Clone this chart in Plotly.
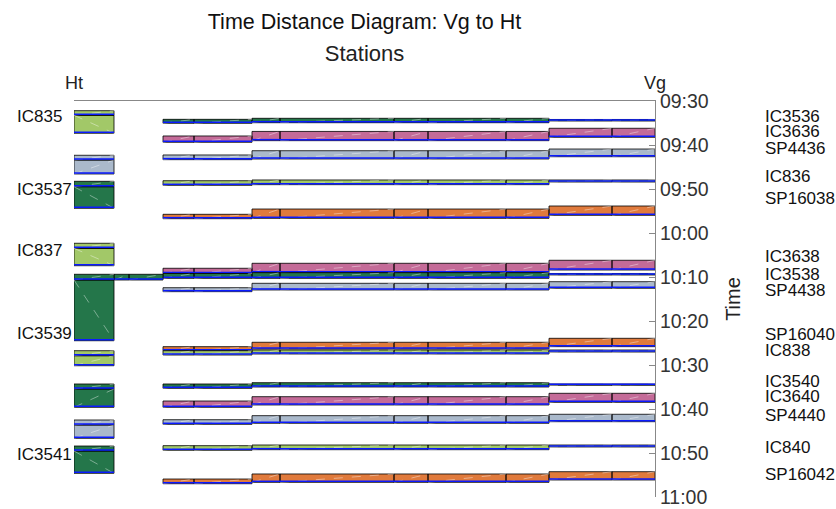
import plotly.graph_objects as go
import pandas as pd

DAY = "2024-01-01 "

# ---- stations (km from Ht) ----
STATION_KM = [0.0, 4.0, 5.5, 8.9, 12.0, 17.8, 20.6, 32.0, 35.4, 43.2, 47.5, 53.8, 58.1]
TICK_KM = [0.0, 58.1]
TICK_TEXT = ["Ht", "Vg"]

# section groups as station index ranges
GROUP_A = (3, 5)
GROUP_B = (5, 10)
GROUP_C = (10, 12)

DG = "#24764a"   # dark green
LG = "#a2c868"   # light green
PK = "#c46b98"   # pink
GR = "#aab9cb"   # grey blue
OR = "#e07a3c"   # orange

TRAINS = ["IC3536", "IC3636", "SP4436", "IC836", "SP16038",
          "IC3638", "IC3538", "SP4438", "SP16040", "IC838",
          "IC3540", "IC3640", "SP4440", "IC840", "SP16042"]
TRAIN_COLOR = [DG, PK, GR, LG, OR, PK, DG, GR, OR, LG, DG, PK, GR, LG, OR]

BLOCK_A = [("09:34:10", "09:35:04"), ("09:37:57", "09:39:23"), ("09:42:16", "09:43:20"),
           ("09:48:07", "09:49:10"), ("09:55:45", "09:56:45"), ("10:08:01", "10:09:12"),
           ("10:09:12", "10:10:18"), ("10:12:26", "10:13:20"), ("10:25:50", "10:26:45"),
           ("10:26:45", "10:27:44"), ("10:34:19", "10:35:18"), ("10:38:11", "10:39:37"),
           ("10:42:26", "10:43:29"), ("10:48:20", "10:49:23"), ("10:55:55", "10:56:59")]
BLOCK_B = [("09:33:56", "09:34:56"), ("09:36:55", "09:39:01"), ("09:41:18", "09:43:11"),
           ("09:47:57", "09:49:01"), ("09:54:33", "09:56:40"), ("10:06:53", "10:09:01"),
           ("10:09:01", "10:10:18"), ("10:11:26", "10:12:57"), ("10:24:50", "10:26:22"),
           ("10:26:35", "10:27:30"), ("10:34:01", "10:35:00"), ("10:37:12", "10:39:05"),
           ("10:41:31", "10:43:15"), ("10:48:11", "10:49:15"), ("10:54:46", "10:56:40")]
BLOCK_C = [("09:34:12", "09:34:33"), ("09:36:12", "09:38:15"), ("09:40:55", "09:42:40"),
           ("09:47:57", "09:48:25"), ("09:53:52", "09:55:59"), ("10:06:12", "10:08:25"),
           ("10:09:12", "10:09:33"), ("10:11:04", "10:12:34"), ("10:23:56", "10:25:50"),
           ("10:26:35", "10:27:03"), ("10:34:19", "10:34:37"), ("10:36:26", "10:38:29"),
           ("10:41:12", "10:42:53"), ("10:48:11", "10:48:38"), ("10:54:15", "10:56:08")]
LABEL_TIME = ["09:33:31", "09:37:00", "09:40:52", "09:47:05", "09:52:14",
              "10:05:27", "10:09:26", "10:13:08", "10:23:04", "10:26:42",
              "10:33:41", "10:37:07", "10:41:29", "10:48:41", "10:54:53"]

# extra block of IC3538 towards Ht (station index range, start, end)
EXTRA_BLOCKS = [(1, 3, "10:09:23", "10:10:41", DG)]

# blocks at Ht (station 0 -> 1): band start, band end, block end
LEFT_COLOR = [LG, GR, DG, LG, DG, LG, DG, GR, DG]
LEFT_TIMES = [("09:32:12", "09:33:15", "09:37:20"), ("09:42:20", "09:43:25", "09:46:35"),
              ("09:48:15", "09:49:29", "09:54:23"), ("10:02:20", "10:03:29", "10:07:26"),
              ("10:09:23", "10:10:41", "10:24:29"), ("10:26:45", "10:27:53", "10:30:10"),
              ("10:34:19", "10:35:27", "10:39:37"), ("10:42:30", "10:43:38", "10:46:40"),
              ("10:48:25", "10:49:33", "10:54:37")]
LEFT_DIAG_DOWN = [True, False, True, True, True, False, False, False, True]
LEFT_LABELS = ["IC835", "IC3537", "IC837", "IC3539", "IC3541"]
LEFT_LABEL_TIME = ["09:33:38", "09:50:04", "10:04:03", "10:22:48", "10:50:20"]


def ts(s):
    return pd.Timestamp(DAY + s)


BLUE_OFFSET = pd.Timedelta(seconds=14)

fig = go.Figure()


def add_blocks(blocks, color):
    """blocks: list of (x0, x1, tstart, tend, diag_down)"""
    fx, fy, dx, dy, bx, by = [], [], [], [], [], []
    for x0, x1, t0, t1, down in blocks:
        fx += [x0, x1, x1, x0, x0, None]
        fy += [t0, t0, t1, t1, t0, None]
        dx += [x0, x1, None]
        dy += ([t0, t1, None] if down else [t1, t0, None])
        bx += [x0, x1, None]
        bottom = max(t1 - BLUE_OFFSET, t0)
        by += [bottom, bottom, None]
    fig.add_trace(go.Scatter(x=fx, y=fy, mode="lines", fill="toself", fillcolor=color,
                             line=dict(color="rgba(0,0,0,0.8)", width=1),
                             hoverinfo="skip", showlegend=False))
    fig.add_trace(go.Scatter(x=dx, y=dy, mode="lines",
                             line=dict(color="rgba(255,255,255,0.4)", width=1, dash="dash"),
                             hoverinfo="skip", showlegend=False))
    fig.add_trace(go.Scatter(x=bx, y=by, mode="lines",
                             line=dict(color="#0a1aff", width=1.5),
                             hoverinfo="skip", showlegend=False))


# right-side trains
for i, name in enumerate(TRAINS):
    blocks = []
    for (g0, g1), (s, e) in ((GROUP_A, BLOCK_A[i]), (GROUP_B, BLOCK_B[i]), (GROUP_C, BLOCK_C[i])):
        for k in range(g0, g1):
            blocks.append((STATION_KM[k], STATION_KM[k + 1], ts(s), ts(e), False))
    add_blocks(blocks, TRAIN_COLOR[i])

# extra
for g0, g1, s, e, c in EXTRA_BLOCKS:
    add_blocks([(STATION_KM[k], STATION_KM[k + 1], ts(s), ts(e), False) for k in range(g0, g1)], c)

# Ht blocks
for i, (b0, b1, b2) in enumerate(LEFT_TIMES):
    add_blocks([(STATION_KM[0], STATION_KM[1], ts(b0), ts(b1), False),
                (STATION_KM[0], STATION_KM[1], ts(b1), ts(b2), LEFT_DIAG_DOWN[i])],
               LEFT_COLOR[i])

FONT = "Liberation Sans, Arial, sans-serif"
PLOT_L, PLOT_W = 74, 581

annotations = []
for name, t in zip(TRAINS, LABEL_TIME):
    annotations.append(dict(text=name, x=(763 - PLOT_L) / PLOT_W, xref="paper", xanchor="left",
                            y=ts(t), yref="y", yanchor="middle", showarrow=False,
                            font=dict(family=FONT, size=17, color="#111")))
for name, t in zip(LEFT_LABELS, LEFT_LABEL_TIME):
    annotations.append(dict(text=name, x=(15 - PLOT_L) / PLOT_W, xref="paper", xanchor="left",
                            y=ts(t), yref="y", yanchor="middle", showarrow=False,
                            font=dict(family=FONT, size=17, color="#111")))

fig.update_layout(
    width=836, height=509,
    margin=dict(l=74, r=181, t=101, b=12),
    plot_bgcolor="white", paper_bgcolor="white",
    font=dict(family=FONT, color="#222"),
    title=dict(text="Time Distance Diagram: Vg to Ht", x=0.5, xref="paper", xanchor="center",
               y=1 - 21 / 509, yanchor="middle", font=dict(size=21.5, color="#111")),
    xaxis=dict(range=[STATION_KM[0], STATION_KM[-1]], side="top", automargin=False,
               tickmode="array", tickvals=TICK_KM, ticktext=TICK_TEXT,
               ticks="inside", ticklen=6, tickcolor="#888", ticklabelstandoff=4,
               showline=True, linecolor="#888", linewidth=1, showgrid=False, zeroline=False,
               tickfont=dict(size=18, color="#222"),
               title=dict(text="Stations", font=dict(size=22, color="#222"), standoff=5)),
    yaxis=dict(type="date", range=[ts("11:00:00"), ts("09:30:00")], side="right",
               automargin=False,
               dtick=600000, tickformat="%H:%M",
               ticks="inside", ticklen=6, tickcolor="#888",
               showline=True, linecolor="#888", linewidth=1, showgrid=False, zeroline=False,
               tickfont=dict(size=19.5, color="#333"),
               title=dict(text="Time", font=dict(size=20, color="#222"), standoff=18)),
    annotations=annotations,
)

fig.write_html("out.html", config={"displayModeBar": False},
               post_script="document.body.style.margin='0';")
